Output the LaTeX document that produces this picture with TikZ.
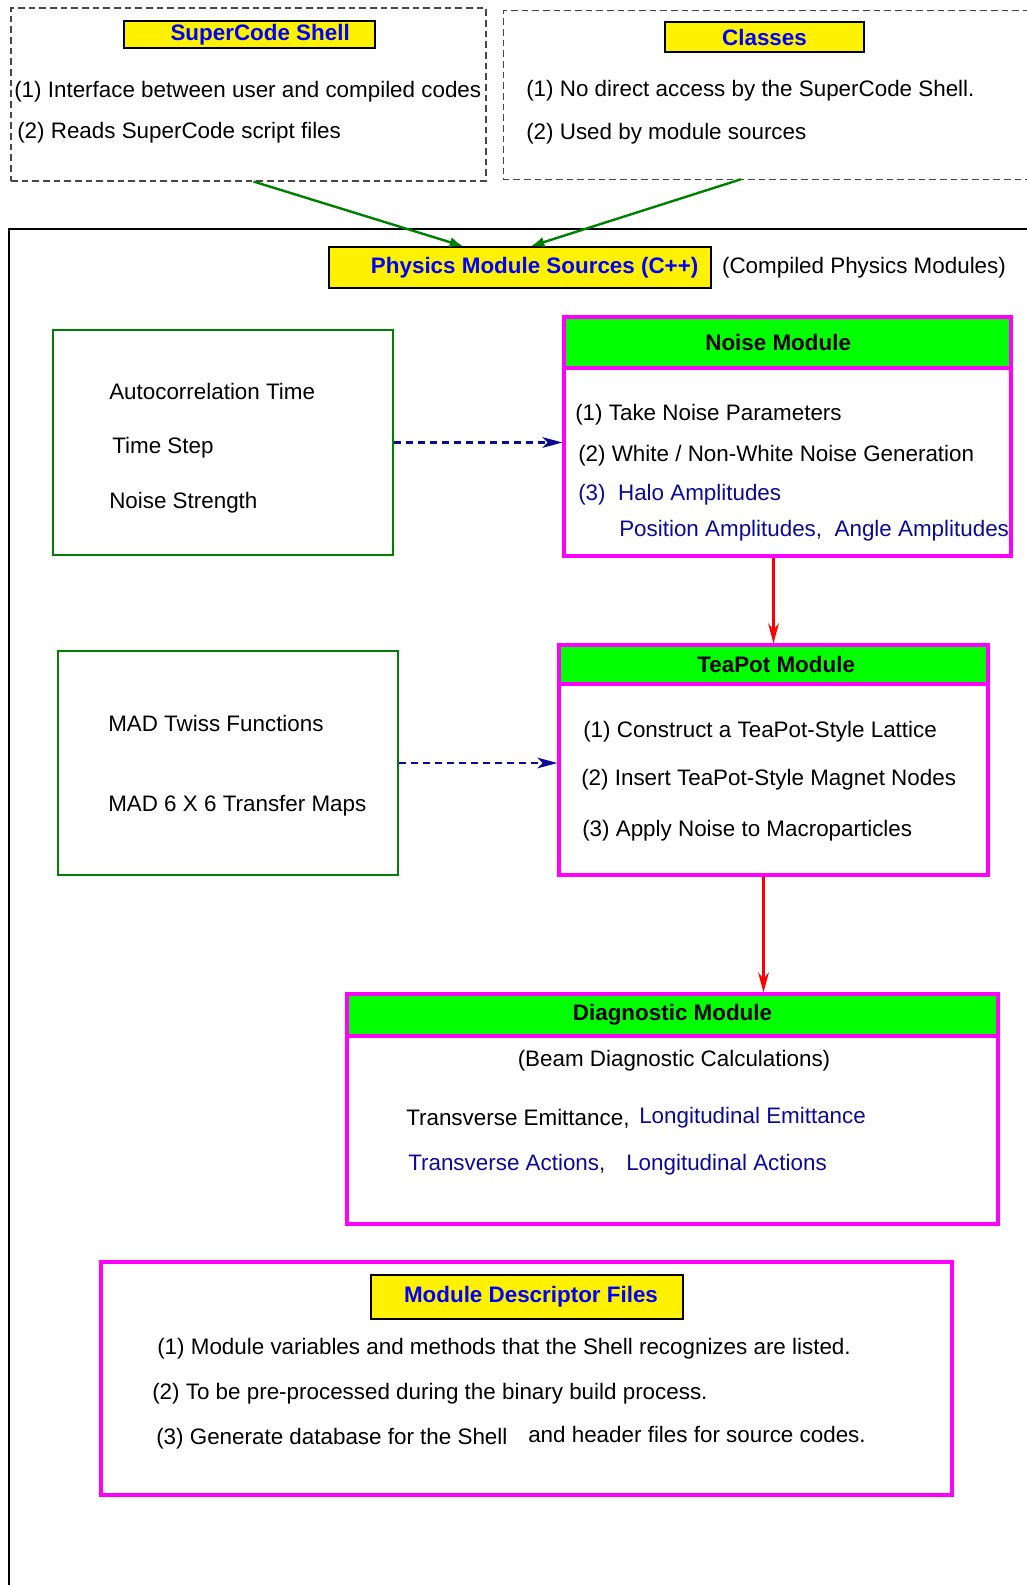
\documentclass[tikz,border=0pt]{standalone}
\usepackage{fontspec}
\setmainfont{Liberation Sans}
\usepackage{xcolor}
\usetikzlibrary{arrows.meta, positioning, fit, calc}

\definecolor{modmagenta}{RGB}{255,0,255}
\definecolor{headgreen}{RGB}{0,255,0}
\definecolor{boxgreen}{RGB}{0,128,0}
\definecolor{titleblue}{RGB}{0,0,255}
\definecolor{navytext}{RGB}{10,10,150}
\definecolor{dashgray}{RGB}{70,70,70}

\begin{document}
\begin{tikzpicture}[x=0.75pt, y=-0.75pt,
    font=\fontsize{16.8}{20}\selectfont,
    frame/.style={inner sep=0pt},
    dashbox/.style={draw=dashgray, line width=0.8pt, dash pattern=on 5pt off 3pt},
    titletxt/.style={text=titleblue, font=\fontsize{16.8}{20}\selectfont\bfseries},
    headtxt/.style={text=black, font=\fontsize{16.8}{20}\selectfont\bfseries},
    titlebox/.style={frame, draw=black, fill=yellow, line width=1.2pt},
    inbox/.style={frame, draw=boxgreen, line width=2pt},
    modbox/.style={frame, draw=modmagenta, line width=2.4pt},
    modhead/.style={modbox, fill=headgreen},
    txt/.style={anchor=west, inner sep=0pt, text height=1.05em, text depth=0pt},
    bluetxt/.style={txt, text=navytext},
    feed/.style={-{Latex[length=10pt, width=8pt]}, draw=boxgreen, line width=1.8pt},
    flow/.style={-{Stealth[length=15pt, width=8pt]}, draw=red, line width=1.8pt},
    uses/.style={-{Stealth[length=15pt, width=8pt, inset=4pt]}, draw=navytext, line width=1.8pt, dash pattern=on 5pt off 4pt}
]
\useasboundingbox (0,0) rectangle (1026,1585);

% top: shell and classes
\node[frame, dashbox, fit={(11,8) (486,181)}] (shell) {};
\node[titlebox, fit={(124,21) (375,48)}, label={[titletxt, xshift=8pt]center:SuperCode Shell}] (shelltitle) {};
\node[txt] (shella) at (14,90) {(1) Interface between user and compiled codes};
\node[txt] (shellb) at (17,131) {(2) Reads SuperCode script files};

\node[frame, fit={(504,11) (1040,179)}] (classes) {};
\draw[dashbox] (classes.north east) -- (classes.north west) -- (classes.south west) -- (classes.south east);
\node[titlebox, fit={(665,22) (864,52)}, label={[titletxt]center:Classes}] (clstitle) {};
\node[txt] (clsa) at (526,89) {(1) No direct access by the SuperCode Shell.};
\node[txt] (clsb) at (526,132) {(2) Used by module sources};

% compiled modules frame
\draw[line width=0.8pt] (1040,229) -- (9,229) -- (9,1600);
\node[titlebox, fit={(329,247) (711,288)}, label={[titletxt, xshift=11pt]center:Physics Module Sources (C++)}] (phys) {};
\node[txt, anchor=center] (physnote) at (864,266) {(Compiled Physics Modules)};

\draw[feed] ($(shell.south)+(5,0)$) -- ($(phys.north)+(-57,0)$);
\draw[feed] ($(classes.south)+(-31,0)$) -- ($(phys.north)+(11,0)$);

% noise
\node[inbox, fit={(53,330) (393,555)}] (noisein) {};
\node[txt] (noiseina) at (109,392) {Autocorrelation Time};
\node[txt] (noiseinb) at (112,446) {Time Step};
\node[txt] (noiseinc) at (109,501) {Noise Strength};

\node[modbox, fit={(564,317) (1011,556)}] (noise) {};
\node[modhead, fit={(564,317) (1011,368)}, label={[headtxt, xshift=-7pt]center:Noise Module}] (noisehead) {};
\node[txt] (noisea) at (575,413) {(1) Take Noise Parameters};
\node[txt] (noiseb) at (578,454) {(2) White / Non-White Noise Generation};
\node[bluetxt] (noisec) at (578,493) {(3)\ \ Halo Amplitudes};
\node[bluetxt] (noised) at (619,529) {Position Amplitudes,\ \ Angle Amplitudes};

\draw[uses] (noisein.east) -- (noise.west |- noisein.east);

% teapot
\node[inbox, fit={(58,651) (398,875)}] (twiss) {};
\node[txt] (twissa) at (108,724) {MAD Twiss Functions};
\node[txt] (twissb) at (108,804) {MAD 6 X 6 Transfer Maps};

\node[modbox, fit={(559,645) (988,875)}] (tea) {};
\node[modhead, fit={(559,645) (988,684)}, label={[headtxt, xshift=2pt]center:TeaPot Module}] (teahead) {};
\node[txt] (teaa) at (583,730) {(1) Construct a TeaPot-Style Lattice};
\node[txt] (teab) at (581,778) {(2) Insert TeaPot-Style Magnet Nodes};
\node[txt] (teac) at (582,829) {(3) Apply Noise to Macroparticles};

\draw[uses] (twiss.east) -- (tea.west |- twiss.east);
\draw[flow] (tea.north |- noise.south) -- (tea.north);

% diagnostics
\node[modbox, fit={(347,994) (998,1224)}] (diag) {};
\node[modhead, fit={(347,994) (998,1036)}, label={[headtxt]center:Diagnostic Module}] (diaghead) {};
\node[txt, anchor=center] (diagnote) at (674,1059) {(Beam Diagnostic Calculations)};
\node[txt] (diaga) at (406,1118) {Transverse Emittance,};
\node[bluetxt] (diagb) at (639,1116) {Longitudinal Emittance};
\node[bluetxt] (diagc) at (408,1163) {Transverse Actions,};
\node[bluetxt] (diagd) at (626,1163) {Longitudinal Actions};

\draw[flow] ($(tea.south)+(-10,0)$) coordinate (teaout) -- (teaout |- diag.north);

% descriptor files
\node[modbox, fit={(101,1262) (952,1495)}] (desc) {};
\node[titlebox, fit={(371,1275) (683,1319)}, label={[titletxt, xshift=3pt]center:Module Descriptor Files}] (desctitle) {};
\node[txt] (desca) at (157,1347) {(1) Module variables and methods that the Shell recognizes are listed.};
\node[txt] (descb) at (152,1392) {(2) To be pre-processed during the binary build process.};
\node[txt] (descc) at (156,1437) {(3) Generate database for the Shell};
\node[txt] (descd) at (528,1435) {and header files for source codes.};
\end{tikzpicture}
\end{document}
